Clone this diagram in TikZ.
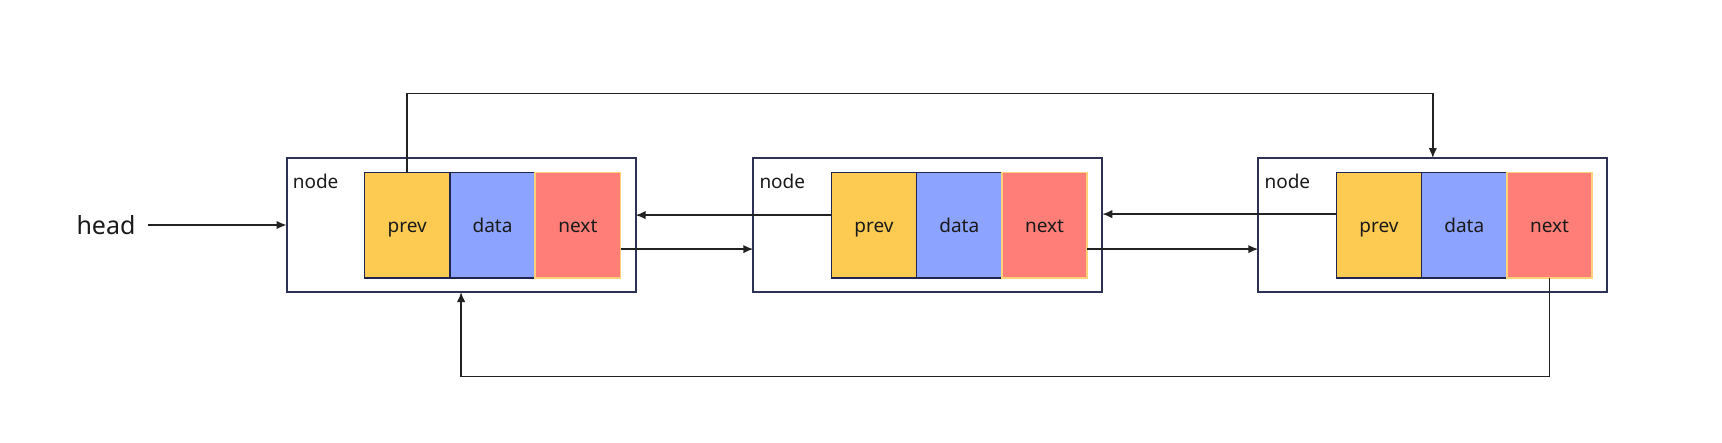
\documentclass[tikz,border=0pt]{standalone}
\usepackage{fontspec}
\setmainfont{Noto Sans}
\usetikzlibrary{arrows.meta,calc}
\definecolor{prevc}{HTML}{FECB52}
\definecolor{datac}{HTML}{8CA3FF}
\definecolor{nextc}{HTML}{FF7F78}
\definecolor{nextb}{HTML}{FFD27A}
\definecolor{cellb}{HTML}{1F2550}
\definecolor{boxb}{HTML}{2E3156}
\definecolor{linec}{HTML}{222222}
\definecolor{txt}{HTML}{1A1A1A}
\tikzset{
 outer/.style={draw=boxb, line width=1.8pt, minimum width=349pt, minimum height=134pt, inner sep=0pt, outer sep=0pt, anchor=north west},
 cell/.style={draw=cellb, line width=1.5pt, minimum width=85.3pt, minimum height=105.4pt, inner sep=0pt, outer sep=0pt, anchor=north west, font=\fontsize{19}{21}\selectfont, text=txt, text height=16pt, text depth=1pt},
 prevcell/.style={cell, fill=prevc},
 datacell/.style={cell, fill=datac},
 nextcell/.style={cell, fill=nextc, draw=nextb},
 lbl/.style={anchor=west, font=\fontsize{19}{21}\selectfont, inner sep=0pt, text=txt},
 arr/.style={draw=linec, line width=1.6pt, -{Latex[length=10pt,width=8.5pt]}},
}
\begin{document}
\begin{tikzpicture}[x=1pt,y=-1pt]
\useasboundingbox (0,0) rectangle (1722,442);
\foreach \i/\x in {1/286.6,2/753.3,3/1258.3}{
  \node[outer] (n\i) at (\x,158) {};
  \node[lbl] (t\i) at (\x+6,181) {node};
  \node[prevcell] (p\i) at (\x+78,172.4) {prev};
  \node[datacell] (d\i) at (\x+163.3,172.4) {data};
  \node[nextcell] (x\i) at (\x+248.6,172.4) {next};
}
\node[font=\fontsize{25}{29}\selectfont, inner sep=0pt, text=txt] (head) at (106,225) {head};
\draw[arr] ([xshift=12pt]head.east) -- (n1.west);
% next -> following node
\coordinate (a1) at ($(x1.east)+(0,24)$);
\coordinate (a2) at ($(x2.east)+(0,24)$);
\draw[arr] (a1) -- (a1 -| n2.west);
\draw[arr] (a2) -- (a2 -| n3.west);
% prev -> preceding node
\coordinate (b2) at ($(p2.west)+(0,-10)$);
\coordinate (b3) at ($(p3.west)+(0,-11)$);
\draw[arr] (b2) -- (b2 -| n1.east);
\draw[arr] (b3) -- (b3 -| n2.east);
% circular links
\draw[arr] (p1.north) |- ($(n3.north)+(0,-64.7)$) -- (n3.north);
\draw[arr] (x3.south) -- ++(0,98.8) -| (n1.south);
\end{tikzpicture}
\end{document}
